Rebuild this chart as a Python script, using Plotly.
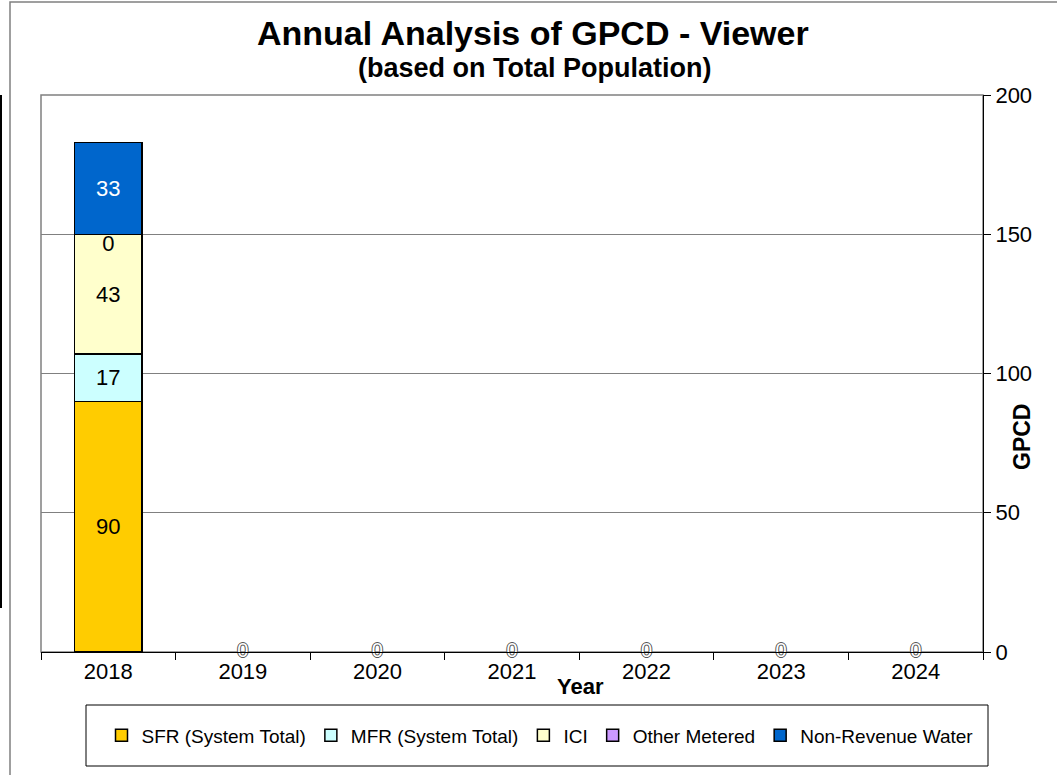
import plotly.graph_objects as go

years = ["2018", "2019", "2020", "2021", "2022", "2023", "2024"]
sfr = [90, 0, 0, 0, 0, 0, 0]
mfr = [17, 0, 0, 0, 0, 0, 0]
ici = [43, 0, 0, 0, 0, 0, 0]
other = [0, 0, 0, 0, 0, 0, 0]
nrw = [33, 0, 0, 0, 0, 0, 0]

series_names = ["SFR (System Total)", "MFR (System Total)", "ICI", "Other Metered", "Non-Revenue Water"]
series_vals = [sfr, mfr, ici, other, nrw]
series_colors = ["#FFCC00", "#CCFFFF", "#FFFFCC", "#CC99FF", "#0066CC"]
text_colors = ["black", "black", "black", "black", "white"]

FONT = "Liberation Sans, Arial, sans-serif"

# plot area in pixels
L, R, T, B = 41, 983, 95, 652
W, H = R - L, B - T


def px(x):
    return (x - L) / W


def py(y):
    return (B - y) / H


totals = [sum(v) for v in zip(*series_vals)]

fig = go.Figure()
for name, vals, col, tcol in zip(series_names, series_vals, series_colors, text_colors):
    fig.add_trace(go.Bar(
        x=years, y=vals, name=name,
        marker=dict(color=col, line=dict(color="black", width=[1.5 if t else 0 for t in totals])),
        width=0.5,
        text=[f"{v:.0f}" if v else "" for v in vals],
        textposition="inside", insidetextanchor="middle",
        constraintext="none",
        textfont=dict(family=FONT, size=22, color=tcol),
        hoverinfo="skip",
    ))

# label of zero-height "Other Metered" segment in 2018
below_other = [s + m + i for s, m, i in zip(sfr, mfr, ici)]
fig.add_trace(go.Scatter(
    x=[years[0]], y=[below_other[0]], mode="text",
    text=[f"{other[0]:.0f}"], textposition="bottom center",
    textfont=dict(family=FONT, size=22, color="black"),
    showlegend=False, hoverinfo="skip", cliponaxis=False,
))

# zero labels of empty years
zx = [y for y, t in zip(years, totals) if t == 0]
zt = [f"{t:.0f}" for t in totals if t == 0]
fig.add_trace(go.Scatter(
    x=zx, y=[0] * len(zx), mode="text", text=zt, textposition="middle center",
    textfont=dict(family=FONT, size=20, color="white",
                  shadow="-1px 0 0 #555, 1px 0 0 #555, 0 -1px 0 #555, 0 1px 0 #555"),
    showlegend=False, hoverinfo="skip", cliponaxis=False,
))

fig.update_layout(
    width=1057, height=775,
    margin=dict(l=L, r=1057 - R, t=T, b=775 - B, pad=0),
    paper_bgcolor="white", plot_bgcolor="white",
    barmode="stack",
    font=dict(family=FONT, size=22, color="black"),
    showlegend=True,
    legend=dict(
        orientation="h", x=px(540), xanchor="center", y=py(735.5), yanchor="middle",
        font=dict(family=FONT, size=19, color="black"),
        bgcolor="rgba(0,0,0,0)", borderwidth=0, traceorder="normal",
    ),
    xaxis=dict(
        type="category", tickson="boundaries", ticks="outside", ticklen=7,
        tickcolor="black", showline=True, linecolor="black", linewidth=1,
        showgrid=False, tickfont=dict(family=FONT, size=22, color="black"),
        fixedrange=True,
    ),
    yaxis=dict(
        side="right", range=[0, 200], dtick=50, ticks="outside", ticklen=7,
        tickcolor="black", showline=True, linecolor="black", linewidth=1,
        showgrid=True, gridcolor="#808080", gridwidth=1, zeroline=False,
        tickfont=dict(family=FONT, size=22, color="black"),
        fixedrange=True,
    ),
    shapes=[
        # plot-area border (left/top grey)
        dict(type="rect", xref="paper", yref="paper", x0=0, x1=1, y0=0, y1=1,
             line=dict(color="#808080", width=1.5), layer="below"),
        # outer chart frame
        dict(type="rect", xref="paper", yref="paper", x0=px(10), x1=px(1100),
             y0=py(900), y1=py(2), line=dict(color="#808080", width=1.5), layer="below"),
        # legend box
        dict(type="rect", xref="paper", yref="paper", x0=px(86), x1=px(988),
             y0=py(766), y1=py(705), line=dict(color="black", width=1), layer="below"),
        # left black edge line
        dict(type="line", xref="paper", yref="paper", x0=px(1), x1=px(1),
             y0=py(608), y1=py(95), line=dict(color="black", width=2)),
    ],
    annotations=[
        dict(text="<b>Annual Analysis of GPCD - Viewer</b>", xref="paper", yref="paper",
             x=px(533), y=py(33), xanchor="center", yanchor="middle", showarrow=False,
             font=dict(family=FONT, size=34, color="black")),
        dict(text="<b>(based on Total Population)</b>", xref="paper", yref="paper",
             x=px(534), y=py(68), xanchor="center", yanchor="middle", showarrow=False,
             font=dict(family=FONT, size=27, color="black")),
        dict(text="<b>Year</b>", xref="paper", yref="paper",
             x=px(580), y=py(686), xanchor="center", yanchor="middle", showarrow=False,
             font=dict(family=FONT, size=22, color="black")),
        dict(text="<b>GPCD</b>", xref="paper", yref="paper", textangle=-90,
             x=px(1022), y=py(437), xanchor="center", yanchor="middle", showarrow=False,
             font=dict(family=FONT, size=23, color="black")),
    ],
)

fig.write_html("out.html", config={"displayModeBar": False, "staticPlot": True},
               post_script="document.body.style.margin='0';document.body.style.padding='0';")
